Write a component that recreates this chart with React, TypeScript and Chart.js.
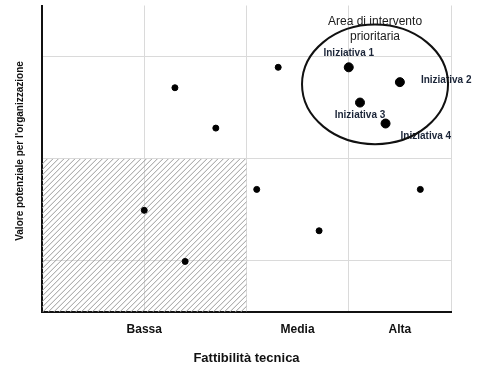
import React, { useEffect, useRef } from "react";
import { Chart, registerables } from "chart.js";

Chart.register(...registerables);

// Feasibility (x) / value (y) of the initiatives
const initiativeNames = ["Iniziativa 1", "Iniziativa 2", "Iniziativa 3", "Iniziativa 4"];
const initiativeX = [3.0, 3.5, 3.11, 3.36];
const initiativeY = [4.79, 4.5, 4.1, 3.69];
const labelPlacement = ["top", "right", "bottom", "bottomRight"];

const otherX = [1.3, 1.7, 2.31, 1.0, 1.4, 2.1, 2.71, 3.7];
const otherY = [4.39, 3.6, 4.79, 1.99, 0.99, 2.4, 1.59, 2.4];

const xTickValues = [1, 2, 2.5, 3, 3.5, 4];
const xTickLabels: Record<string, string> = { "1": "Bassa", "2.5": "Media", "3.5": "Alta" };
const yGridValues = [1, 3, 5];

const xTitle = "Fattibilità tecnica";
const yTitle = "Valore potenziale per l'organizzazione";
const areaTitle = ["Area di intervento", "prioritaria"];
// priority area ellipse (data units)
const areaCenter = { x: 3.257, y: 4.456 };
const areaRadius = { x: 0.714, y: 1.17 };
// low-priority hatched zone
const hatchZone = { x0: 0, x1: 2, y0: 0, y1: 3 };

const FONT = "'Liberation Sans', Arial, sans-serif";
const TEXT_COLOR = "#1b2538";

export default function App() {
  const ref = useRef<HTMLCanvasElement>(null);

  useEffect(() => {
    document.body.style.margin = "0";
    const canvas = ref.current!;

    const decor = {
      id: "decor",
      beforeDatasetsDraw(chart: any) {
        const { ctx, scales } = chart;
        const x = scales.x, y = scales.y;
        const left = x.getPixelForValue(hatchZone.x0);
        const right = x.getPixelForValue(hatchZone.x1);
        const top = y.getPixelForValue(hatchZone.y1);
        const bottom = y.getPixelForValue(hatchZone.y0);
        ctx.save();
        ctx.beginPath();
        ctx.rect(left, top, right - left, bottom - top);
        ctx.clip();
        ctx.strokeStyle = "#9a9a9a";
        ctx.lineWidth = 1;
        const h = bottom - top;
        for (let s = left - h; s < right + 5; s += 5.5) {
          ctx.beginPath();
          ctx.moveTo(s, bottom);
          ctx.lineTo(s + h, top);
          ctx.stroke();
        }
        ctx.restore();
      },
      afterDatasetsDraw(chart: any) {
        const { ctx, scales } = chart;
        const x = scales.x, y = scales.y;
        ctx.save();
        // initiative labels
        ctx.fillStyle = TEXT_COLOR;
        ctx.font = `bold 10px ${FONT}`;
        ctx.textBaseline = "middle";
        initiativeNames.forEach((name, i) => {
          const px = x.getPixelForValue(initiativeX[i]);
          const py = y.getPixelForValue(initiativeY[i]);
          const p = labelPlacement[i];
          if (p === "top") { ctx.textAlign = "center"; ctx.fillText(name, px, py - 14); }
          else if (p === "bottom") { ctx.textAlign = "center"; ctx.fillText(name, px, py + 13); }
          else if (p === "right") { ctx.textAlign = "left"; ctx.fillText(name, px + 21, py - 1.5); }
          else { ctx.textAlign = "left"; ctx.fillText(name, px + 15, py + 13); }
        });
        // area title
        const cx = x.getPixelForValue(areaCenter.x);
        const cy = y.getPixelForValue(areaCenter.y);
        ctx.fillStyle = "#1a1a1a";
        ctx.font = `12px ${FONT}`;
        ctx.textAlign = "center";
        ctx.fillText(areaTitle[0], cx, 22);
        ctx.fillText(areaTitle[1], cx, 37);
        // ellipse
        const rx = Math.abs(x.getPixelForValue(areaCenter.x + areaRadius.x) - cx);
        const ry = Math.abs(y.getPixelForValue(areaCenter.y + areaRadius.y) - cy);
        ctx.beginPath();
        ctx.ellipse(cx, cy, rx, ry, 0, 0, Math.PI * 2);
        ctx.strokeStyle = "#111";
        ctx.lineWidth = 2;
        ctx.stroke();
        // axis titles
        ctx.fillStyle = "#111";
        ctx.font = `bold 13px ${FONT}`;
        ctx.textAlign = "center";
        ctx.fillText(xTitle, (chart.chartArea.left + chart.chartArea.right) / 2, 358);
        ctx.translate(20, 151);
        ctx.rotate(-Math.PI / 2);
        ctx.font = `bold 10px ${FONT}`;
        ctx.fillText(yTitle, 0, 0);
        ctx.restore();
      },
    };

    const chart = new Chart(canvas, {
      type: "scatter",
      data: {
        datasets: [
          {
            data: otherX.map((v, i) => ({ x: v, y: otherY[i] })),
            backgroundColor: "#000",
            borderColor: "#000",
            pointRadius: 3,
          },
          {
            data: initiativeX.map((v, i) => ({ x: v, y: initiativeY[i] })),
            backgroundColor: "#000",
            borderColor: "#000",
            pointRadius: 4.5,
          },
        ],
      },
      options: {
        animation: false,
        responsive: false,
        layout: { padding: { top: 5, right: 26, left: 0, bottom: 0 } },
        plugins: { legend: { display: false }, tooltip: { enabled: false } },
        scales: {
          x: {
            type: "linear",
            min: 0,
            max: 4,
            afterBuildTicks: (s: any) => { s.ticks = xTickValues.map((v) => ({ value: v })); },
            afterFit: (s: any) => { s.height = 59; },
            grid: {
              drawTicks: false,
              color: (c: any) => (c.tick && (c.tick.value === 2.5 || c.tick.value === 3.5) ? "rgba(0,0,0,0)" : "#dadada"),
              lineWidth: 1,
            },
            border: { color: "#111", width: 2 },
            ticks: {
              padding: 10,
              autoSkip: false,
              maxRotation: 0,
              color: "#111",
              font: { family: FONT, size: 12, weight: "bold" },
              callback: (v: any) => xTickLabels[String(v)] ?? "",
            },
          },
          y: {
            type: "linear",
            min: 0,
            max: 6,
            afterBuildTicks: (s: any) => { s.ticks = yGridValues.map((v) => ({ value: v })); },
            afterFit: (s: any) => { s.width = 42; },
            grid: { drawTicks: false, color: "#dadada", lineWidth: 1 },
            border: { color: "#111", width: 2 },
            ticks: { display: false },
          },
        },
      },
      plugins: [decor],
    } as any);
    return () => chart.destroy();
  }, []);

  return (
    <div style={{ width: 477, height: 371, background: "#fff" }}>
      <canvas ref={ref} width={477} height={371} />
    </div>
  );
}
